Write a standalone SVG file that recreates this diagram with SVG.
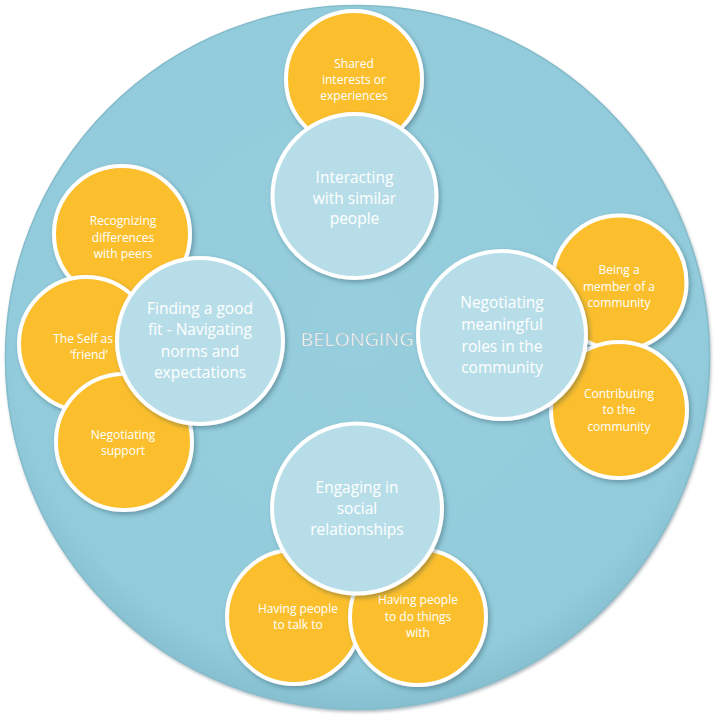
<svg xmlns="http://www.w3.org/2000/svg" width="716" height="724" viewBox="0 0 716 724">
<defs>
<radialGradient id="bg" cx="50%" cy="45%" r="55%">
<stop offset="0" stop-color="#96CEDD"/>
<stop offset="0.9" stop-color="#92CBDB"/>
<stop offset="1" stop-color="#86BFCF"/>
</radialGradient>
<filter id="sh" x="-20%" y="-20%" width="140%" height="140%">
<feDropShadow dx="2" dy="2.5" stdDeviation="2" flood-color="#1f3c48" flood-opacity="0.35"/>
</filter>
<filter id="shb" x="-5%" y="-5%" width="110%" height="110%">
<feDropShadow dx="1" dy="2" stdDeviation="1.5" flood-color="#5a6f78" flood-opacity="0.45"/>
</filter>
</defs>
<style>
.o{fill:#FBBF2E;stroke:#ffffff;stroke-width:4;filter:url(#sh)}
.b{fill:#B7DEE8;stroke:#ffffff;stroke-width:4;filter:url(#sh)}
.tb{font-family:"Open Sans","DejaVu Sans",sans-serif;font-size:15.5px;fill:#ffffff;text-anchor:middle}
.to{font-family:"Open Sans","DejaVu Sans",sans-serif;font-size:12px;fill:#ffffff;text-anchor:middle}
.bl{font-family:"Open Sans","DejaVu Sans",sans-serif;font-size:19px;fill:#ffffff;stroke:#9bb9c4;stroke-width:0.45;text-anchor:middle}
</style>
<rect width="716" height="724" fill="#ffffff"/>
<g id="belonging-bg">
<circle cx="357.5" cy="357.5" r="352" fill="url(#bg)" stroke="#84BCCB" stroke-width="1.5" filter="url(#shb)"/>
</g>
<g id="connectors"></g>
<g id="top-group">
<g id="shared"><circle class="o" cx="354" cy="79" r="68"/>
<text class="to" x="354" y="68">Shared</text><text class="to" x="354" y="84">interests or</text><text class="to" x="354" y="100">experiences</text></g>
<g id="interacting"><circle class="b" cx="354.5" cy="196" r="82"/>
<text class="tb" x="354.5" y="183">Interacting</text><text class="tb" x="354.5" y="204">with similar</text><text class="tb" x="354.5" y="224">people</text></g>
</g>
<g id="left-group">
<g id="recognizing"><circle class="o" cx="122" cy="234" r="68"/>
<text class="to" x="123" y="225">Recognizing</text><text class="to" x="123" y="242">differences</text><text class="to" x="123" y="258">with peers</text></g>
<g id="self"><circle class="o" cx="86" cy="344" r="67"/>
<text class="to" x="88" y="343">The Self as a</text><text class="to" x="89" y="359">‘friend’</text></g>
<g id="support"><circle class="o" cx="124" cy="442" r="68"/>
<text class="to" x="123" y="439">Negotiating</text><text class="to" x="123" y="455">support</text></g>
<g id="finding"><circle class="b" cx="200" cy="341" r="83"/>
<text class="tb" x="200" y="314">Finding a good</text><text class="tb" x="200" y="335">fit - Navigating</text><text class="tb" x="200" y="357">norms and</text><text class="tb" x="200" y="378">expectations</text></g>
</g>
<g id="belonging-label"><text class="bl" x="357" y="346" textLength="113" lengthAdjust="spacingAndGlyphs">BELONGING</text></g>
<g id="right-group">
<g id="member"><circle class="o" cx="619.5" cy="282.5" r="67"/>
<text class="to" x="619" y="274">Being a</text><text class="to" x="619" y="291">member of a</text><text class="to" x="619" y="307">community</text></g>
<g id="contributing"><circle class="o" cx="619" cy="410" r="68"/>
<text class="to" x="619" y="398">Contributing</text><text class="to" x="619" y="414">to the</text><text class="to" x="619" y="431">community</text></g>
<g id="negotiating-roles"><circle class="b" cx="502" cy="335" r="84"/>
<text class="tb" x="502" y="308">Negotiating</text><text class="tb" x="502" y="330">meaningful</text><text class="tb" x="502" y="352">roles in the</text><text class="tb" x="502" y="373">community</text></g>
</g>
<g id="bottom-group">
<g id="talk"><circle class="o" cx="294" cy="617" r="67"/>
<text class="to" x="298" y="613">Having people</text><text class="to" x="298" y="629">to talk to</text></g>
<g id="dothings"><circle class="o" cx="418" cy="617" r="68"/>
<text class="to" x="418" y="604">Having people</text><text class="to" x="418" y="621">to do things</text><text class="to" x="418" y="637">with</text></g>
<g id="engaging"><circle class="b" cx="357" cy="508.5" r="85"/>
<text class="tb" x="357" y="493">Engaging in</text><text class="tb" x="357" y="514">social</text><text class="tb" x="357" y="535">relationships</text></g>
</g>
</svg>
